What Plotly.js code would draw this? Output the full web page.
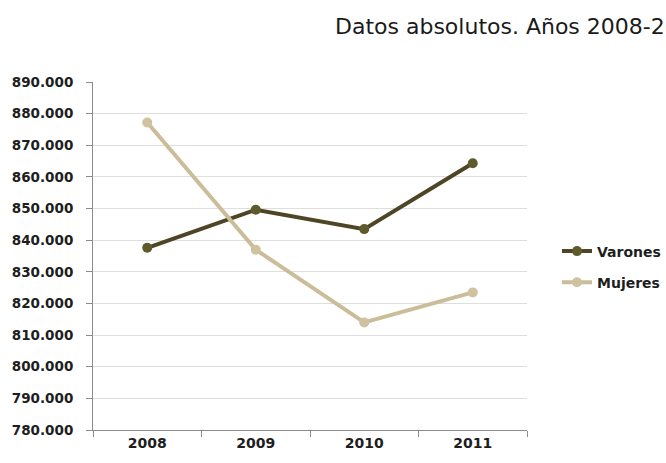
<!DOCTYPE html>
<html>
<head>
<meta charset="utf-8">
<script src="https://cdn.plot.ly/plotly-3.0.1.min.js"></script>
<style>
  html, body { margin: 0; padding: 0; background: #fff; }
  #chart { width: 666px; height: 463px; }
</style>
</head>
<body>
<div id="chart"></div>
<script>
// Población por sexo, datos absolutos 2008-2011
const years = ['2008', '2009', '2010', '2011'];
const varones = [837600, 849600, 843500, 864300];
const mujeres = [877200, 837000, 814000, 823500];
const seriesNames = ['Varones', 'Mujeres'];
const yTicks = [780000, 790000, 800000, 810000, 820000, 830000, 840000, 850000, 860000, 870000, 880000, 890000];

const darkOlive = '#4e4526';
const darkMarker = '#5f5a2c';
const beige = '#cbbd99';
const beigeMarker = '#cfc29f';

const traces = [
  {
    x: years, y: varones, name: seriesNames[0], type: 'scatter', mode: 'lines+markers',
    line: { color: darkOlive, width: 4 },
    marker: { color: darkMarker, size: 10 },
    legendgroup: 'v'
  },
  {
    x: years, y: mujeres, name: seriesNames[1], type: 'scatter', mode: 'lines+markers',
    line: { color: beige, width: 4 },
    marker: { color: beigeMarker, size: 10 },
    legendgroup: 'm'
  }
];

const fontFamily = 'DejaVu Sans, Verdana, sans-serif';
const tickFont = { family: fontFamily, size: 13.5, color: '#1e1e1e', weight: 'bold' };

const layout = {
  width: 666, height: 463,
  margin: { l: 93, r: 139, t: 82, b: 33, pad: 0, autoexpand: false },
  paper_bgcolor: '#ffffff', plot_bgcolor: '#ffffff',
  separators: ',.',
  title: {
    text: 'Datos absolutos. Años 2008-2011',
    font: { family: fontFamily, size: 22, color: '#1a1a1a' },
    x: 335 / 666, xanchor: 'left', xref: 'container',
    y: 1 - 26 / 463, yanchor: 'middle', yref: 'container',
    automargin: false
  },
  xaxis: {
    type: 'category',
    tickson: 'boundaries',
    ticks: 'outside', ticklen: 6, tickcolor: '#8c8c8c', tickwidth: 1,
    showline: true, linecolor: '#8c8c8c', linewidth: 1,
    showgrid: false, zeroline: false,
    tickfont: { family: fontFamily, size: 14, color: '#1e1e1e', weight: 'bold' },
    range: [-0.5, 3.5], fixedrange: true, automargin: false
  },
  yaxis: {
    range: [780000, 890000],
    tickvals: yTicks,
    tickformat: ',.0f',
    ticks: 'outside', ticklen: 6, tickcolor: '#8c8c8c', tickwidth: 1,
    showline: true, linecolor: '#8c8c8c', linewidth: 1,
    showgrid: true, gridcolor: '#dedede', gridwidth: 1,
    zeroline: false,
    tickfont: tickFont,
    ticklabelstandoff: 10,
    fixedrange: true, automargin: false
  },
  showlegend: true,
  legend: {
    x: (557 - 93) / 434, xanchor: 'left',
    y: 1 - (267 - 82) / 348, yanchor: 'middle',
    bgcolor: 'rgba(0,0,0,0)', borderwidth: 0,
    font: { family: fontFamily, size: 14, color: '#1e1e1e', weight: 'bold' },
    tracegroupgap: 10,
    itemwidth: 30
  }
};

Plotly.newPlot('chart', traces, layout, { displayModeBar: false, staticPlot: true });
</script>
</body>
</html>
